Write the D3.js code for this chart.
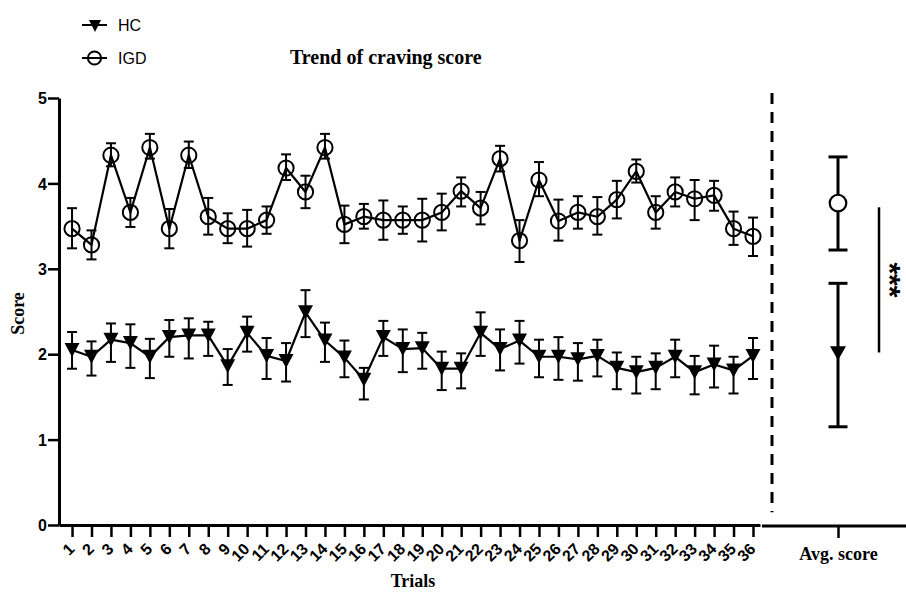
<!DOCTYPE html>
<html>
<head>
<meta charset="utf-8">
<script src="https://cdn.jsdelivr.net/npm/d3@7"></script>
<style>
  html, body { margin: 0; padding: 0; background: #fff; }
  svg { display: block; }
</style>
</head>
<body>
<svg id="chart" width="906" height="592"></svg>
<script>
// ---------------- data ----------------
const trials = [1,2,3,4,5,6,7,8,9,10,11,12,13,14,15,16,17,18,19,20,21,22,23,24,25,26,27,28,29,30,31,32,33,34,35,36];

const igdMean  = [3.47,3.28,4.33,3.66,4.42,3.47,4.33,3.61,3.47,3.47,3.57,4.18,3.90,4.42,3.52,3.61,3.57,3.57,3.57,3.66,3.91,3.71,4.29,3.33,4.04,3.56,3.66,3.61,3.81,4.14,3.66,3.90,3.82,3.86,3.47,3.38];
const igdUpper = [3.71,3.45,4.47,3.83,4.58,3.70,4.49,3.83,3.65,3.69,3.73,4.34,4.09,4.58,3.74,3.76,3.80,3.73,3.82,3.88,4.07,3.90,4.44,3.57,4.25,3.81,3.85,3.84,4.03,4.28,3.85,4.07,4.04,4.03,3.67,3.60];
const igdLower = [3.24,3.11,4.20,3.49,4.29,3.24,4.18,3.40,3.30,3.26,3.41,4.04,3.71,4.29,3.30,3.47,3.34,3.41,3.32,3.45,3.73,3.52,4.14,3.08,3.85,3.33,3.47,3.40,3.59,4.01,3.47,3.73,3.57,3.68,3.28,3.15];

const hcMean  = [2.05,1.97,2.17,2.13,1.97,2.20,2.22,2.22,1.86,2.25,1.98,1.92,2.49,2.16,1.96,1.70,2.20,2.06,2.07,1.83,1.83,2.25,2.06,2.16,1.97,1.97,1.94,1.98,1.84,1.79,1.84,1.97,1.79,1.88,1.81,1.98];
const hcUpper = [2.26,2.15,2.36,2.35,2.18,2.40,2.42,2.38,2.06,2.44,2.19,2.13,2.75,2.37,2.16,1.84,2.39,2.29,2.25,2.03,2.01,2.49,2.29,2.39,2.17,2.20,2.13,2.17,2.02,1.97,2.01,2.17,1.98,2.10,1.97,2.19];
const hcLower = [1.83,1.75,1.91,1.84,1.72,1.97,1.95,1.98,1.64,2.03,1.71,1.68,2.20,1.91,1.73,1.47,1.98,1.79,1.83,1.58,1.60,1.98,1.81,1.89,1.73,1.70,1.69,1.74,1.59,1.54,1.59,1.73,1.53,1.61,1.54,1.71];

const avgCategory = ["Avg. score"];
const avgGroups = ["IGD", "HC"];
const avgMean  = [3.77, 2.01];
const avgUpper = [4.31, 2.83];
const avgLower = [3.22, 1.15];

const sigRange = [3.72, 2.02];
const sigLabel = "***";

const yTicks = [0,1,2,3,4,5];
const legendLabels = ["HC", "IGD"];
const titleText = "Trend of craving score";

// ---------------- layout ----------------
const svg = d3.select("#chart");
const sans = "'Liberation Sans', Arial, Helvetica, sans-serif";
const serif = "'Liberation Serif', 'Times New Roman', Times, serif";

const y = d3.scaleLinear().domain([0, 5]).range([525, 98]);
const x = d3.scaleLinear().domain([0.33, 36.36]).range([59, 760]);
const xAvg = d3.scalePoint().domain(avgCategory).range([770, 906]).padding(0.5);

// ---- y axis ----
const yAxis = svg.append("g")
  .attr("transform", "translate(59,0)")
  .call(d3.axisLeft(y).tickValues(yTicks).tickFormat(d3.format("d")).tickSize(11).tickSizeOuter(0));
yAxis.select(".domain").attr("stroke", "#000").attr("stroke-width", 3);
yAxis.selectAll(".tick line").attr("stroke", "#000").attr("stroke-width", 2.5);
yAxis.selectAll(".tick text")
  .attr("x", -12).attr("dy", "0.36em")
  .attr("font-family", sans).attr("font-weight", "bold").attr("font-size", 16).attr("fill", "#000");

// ---- x axis (trials) ----
const xAxis = svg.append("g")
  .attr("transform", "translate(0,525)")
  .call(d3.axisBottom(x).tickValues(trials).tickFormat(d3.format("d")).tickSize(12).tickSizeOuter(0));
xAxis.select(".domain").attr("stroke", "#000").attr("stroke-width", 3);
xAxis.selectAll(".tick line").attr("stroke", "#000").attr("stroke-width", 2.5);
xAxis.selectAll(".tick text")
  .attr("x", null).attr("y", null).attr("dy", null)
  .attr("transform", "translate(3,25) rotate(-45)")
  .attr("text-anchor", "end")
  .attr("font-family", sans).attr("font-weight", "bold").attr("font-size", 16).attr("fill", "#000");

// ---- x axis (avg panel) ----
const xAxis2 = svg.append("g")
  .attr("transform", "translate(0,526)")
  .call(d3.axisBottom(xAvg).tickSize(12).tickSizeOuter(0));
xAxis2.select(".domain").attr("stroke", "#000").attr("stroke-width", 3).attr("d", "M762,0H906");
xAxis2.selectAll(".tick line").attr("stroke", "#000").attr("stroke-width", 2.5);
xAxis2.selectAll(".tick text")
  .attr("y", 34).attr("dy", null)
  .attr("font-family", serif).attr("font-weight", "bold").attr("font-size", 18).attr("fill", "#000");

// ---- separator dashed line ----
svg.append("line")
  .attr("x1", 772).attr("x2", 772).attr("y1", y(5.06)).attr("y2", y(0.15))
  .attr("stroke", "#000").attr("stroke-width", 3).attr("stroke-dasharray", "11,8");

// ---- axis titles ----
svg.append("text")
  .attr("transform", `translate(24,${(y(0)+y(5))/2 + 2}) rotate(-90)`)
  .attr("text-anchor", "middle")
  .attr("font-family", serif).attr("font-weight", "bold").attr("font-size", 18)
  .text("Score");
svg.append("text")
  .attr("x", 413).attr("y", 587)
  .attr("text-anchor", "middle")
  .attr("font-family", serif).attr("font-weight", "bold").attr("font-size", 18)
  .text("Trials");
svg.append("text")
  .attr("x", 290).attr("y", 64)
  .attr("font-family", serif).attr("font-weight", "bold").attr("font-size", 20)
  .text(titleText);

// ---------------- marks ----------------
const triPath = (w, h) => `M${-w/2},${-h/2}L${w/2},${-h/2}L0,${h/2}Z`;

function series(g, mean, upper, lower, kind) {
  const pts = trials.map((t, i) => ({t, m: mean[i], u: upper[i], l: lower[i]}));
  const eb = g.append("g").attr("stroke", "#000").attr("stroke-width", 2);
  eb.selectAll("line.v").data(pts).join("line").attr("class", "v")
    .attr("x1", d => x(d.t)).attr("x2", d => x(d.t))
    .attr("y1", d => y(d.u)).attr("y2", d => y(d.l));
  eb.selectAll("line.cu").data(pts).join("line").attr("class", "cu")
    .attr("x1", d => x(d.t) - 5).attr("x2", d => x(d.t) + 5)
    .attr("y1", d => y(d.u)).attr("y2", d => y(d.u));
  eb.selectAll("line.cl").data(pts).join("line").attr("class", "cl")
    .attr("x1", d => x(d.t) - 5).attr("x2", d => x(d.t) + 5)
    .attr("y1", d => y(d.l)).attr("y2", d => y(d.l));
  g.append("path").datum(pts)
    .attr("fill", "none").attr("stroke", "#000").attr("stroke-width", 2.2)
    .attr("stroke-linejoin", "round")
    .attr("d", d3.line().x(d => x(d.t)).y(d => y(d.m)));
  if (kind === "circle") {
    g.selectAll("circle").data(pts).join("circle")
      .attr("cx", d => x(d.t)).attr("cy", d => y(d.m)).attr("r", 7.6)
      .attr("fill", "none").attr("stroke", "#000").attr("stroke-width", 2);
  } else {
    g.selectAll("path.sym").data(pts).join("path").attr("class", "sym")
      .attr("transform", d => `translate(${x(d.t)},${y(d.m)})`)
      .attr("d", triPath(15, 14)).attr("fill", "#000");
  }
}
series(svg.append("g"), igdMean, igdUpper, igdLower, "circle");
series(svg.append("g"), hcMean, hcUpper, hcLower, "triangle");

// ---- avg panel ----
const ax = xAvg(avgCategory[0]);
const avgPts = avgGroups.map((g, i) => ({g, m: avgMean[i], u: avgUpper[i], l: avgLower[i]}));
const aeb = svg.append("g").attr("stroke", "#000").attr("stroke-width", 3);
aeb.selectAll("line.v").data(avgPts).join("line").attr("class", "v")
  .attr("x1", ax).attr("x2", ax).attr("y1", d => y(d.u)).attr("y2", d => y(d.l));
aeb.selectAll("line.cu").data(avgPts).join("line").attr("class", "cu")
  .attr("x1", ax - 9.5).attr("x2", ax + 9.5).attr("y1", d => y(d.u)).attr("y2", d => y(d.u));
aeb.selectAll("line.cl").data(avgPts).join("line").attr("class", "cl")
  .attr("x1", ax - 9.5).attr("x2", ax + 9.5).attr("y1", d => y(d.l)).attr("y2", d => y(d.l));
svg.append("circle")
  .attr("cx", ax).attr("cy", y(avgMean[0])).attr("r", 8.3)
  .attr("fill", "#fff").attr("stroke", "#000").attr("stroke-width", 2.2);
svg.append("path")
  .attr("transform", `translate(${ax},${y(avgMean[1])})`)
  .attr("d", triPath(16, 14)).attr("fill", "#000");

// significance
svg.append("line")
  .attr("x1", 879).attr("x2", 879).attr("y1", y(sigRange[0])).attr("y2", y(sigRange[1]))
  .attr("stroke", "#000").attr("stroke-width", 2.5);
svg.append("text")
  .attr("transform", `translate(880,${(y(sigRange[0]) + y(sigRange[1]))/2}) rotate(90)`)
  .attr("text-anchor", "middle")
  .attr("font-family", sans).attr("font-weight", "bold").attr("font-size", 30)
  .text(sigLabel);

// ---- legend ----
const leg = svg.append("g");
const legY = [25, 58];
legendLabels.forEach((lab, i) => {
  leg.append("line").attr("x1", 82).attr("x2", 107).attr("y1", legY[i]).attr("y2", legY[i])
    .attr("stroke", "#000").attr("stroke-width", 2);
  if (lab === "HC") {
    leg.append("path").attr("transform", `translate(95,${legY[i] + 1})`)
      .attr("d", triPath(12, 12)).attr("fill", "#000");
  } else {
    leg.append("circle").attr("cx", 94.5).attr("cy", legY[i]).attr("r", 6.6)
      .attr("fill", "none").attr("stroke", "#000").attr("stroke-width", 2);
  }
  leg.append("text").attr("x", 118).attr("y", legY[i]).attr("dy", "0.36em")
    .attr("font-family", sans).attr("font-size", 16).text(lab);
});
</script>
</body>
</html>
